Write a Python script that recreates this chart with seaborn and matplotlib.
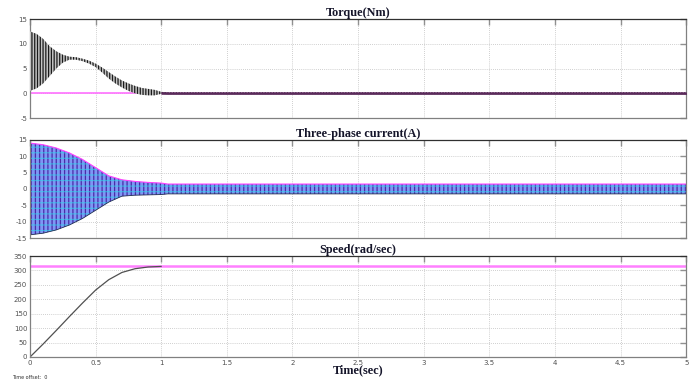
import numpy as np
import pandas as pd
import matplotlib
matplotlib.use("Agg")
import matplotlib.pyplot as plt
import seaborn as sns

# ---------------- data ----------------
# Torque envelope (Nm)
torque_t     = [0.0, 0.05, 0.10, 0.15, 0.20, 0.25, 0.30, 0.35, 0.40, 0.45, 0.50, 0.55, 0.60, 0.65, 0.70, 0.75, 0.80, 0.85, 0.90, 0.95, 1.00, 1.05, 5.0]
torque_upper = [12.5, 12.0, 11.0, 9.5, 8.5, 7.8, 7.4, 7.3, 7.0, 6.6, 6.0, 5.2, 4.3, 3.4, 2.6, 2.0, 1.5, 1.1, 0.9, 0.7, 0.3, 0.2, 0.2]
torque_lower = [0.5, 1.0, 2.0, 3.5, 5.0, 6.2, 6.8, 6.8, 6.5, 6.0, 5.3, 4.2, 3.0, 2.0, 1.2, 0.5, 0.0, -0.3, -0.4, -0.4, -0.1, -0.15, -0.15]
torque_ref_t = [0.0, 5.0]
torque_ref   = [0.0, 0.0]

# Three-phase current envelope (A)
current_t     = [0.0, 0.1, 0.2, 0.3, 0.4, 0.5, 0.6, 0.7, 0.8, 0.9, 1.0, 1.05, 5.0]
current_upper = [14.0, 13.5, 12.5, 11.0, 9.0, 6.5, 4.0, 2.8, 2.3, 2.0, 1.8, 1.5, 1.5]
current_lower = [-14.0, -13.5, -12.5, -11.0, -9.0, -6.5, -4.0, -2.2, -1.9, -1.8, -1.7, -1.5, -1.5]

# Speed (rad/sec)
speed_t   = [0.0, 0.1, 0.2, 0.3, 0.4, 0.5, 0.6, 0.7, 0.8, 0.9, 1.0]
speed_val = [0, 45, 92, 140, 187, 232, 268, 293, 306, 312, 314]
speed_ref_t = [0.0, 5.0]
speed_ref   = [314, 314]

x_ticks = [0, 0.5, 1, 1.5, 2, 2.5, 3, 3.5, 4, 4.5, 5]
x_tick_labels = ["0", "0.5", "1", "1.5", "2", "2.5", "3", "3.5", "4", "4.5", "5"]
torque_ticks = [-5, 0, 5, 10, 15]
current_ticks = [-15, -10, -5, 0, 5, 10, 15]
speed_ticks = [0, 50, 100, 150, 200, 250, 300, 350]

titles = ["Torque(Nm)", "Three-phase current(A)", "Speed(rad/sec)"]
xlabel = "Time(sec)"

# ---------------- style ----------------
sns.set_theme(style="white")
plt.rcParams["font.family"] = ["DejaVu Sans"]
plt.rcParams["hatch.linewidth"] = 0.9

fig = plt.figure(figsize=(6.9, 3.81), dpi=100)
left, width = 0.0435, 0.951
ax1 = fig.add_axes([left, 0.690, width, 0.260])
ax2 = fig.add_axes([left, 0.375, width, 0.258])
ax3 = fig.add_axes([left, 0.063, width, 0.265])

title_font = dict(family="Liberation Serif", fontweight="bold", fontsize=8.8, color="#15152a")

def style_axis(ax, yticks, show_xlabels):
    ax.set_xlim(0, 5)
    ax.set_ylim(yticks[0], yticks[-1])
    ax.set_xticks(x_ticks)
    ax.set_yticks(yticks)
    ax.set_yticklabels([str(v) for v in yticks])
    if show_xlabels:
        ax.set_xticklabels(x_tick_labels)
    else:
        ax.set_xticklabels([])
    ax.tick_params(axis="both", which="both", direction="in", length=4, width=1.0,
                   color="#909090", labelsize=5, labelcolor="#505050",
                   top=True, right=True, pad=2)
    ax.grid(True, linestyle=(0, (1, 1.5)), color="#c0c0c0", linewidth=0.6)
    ax.set_axisbelow(True)
    for name, sp in ax.spines.items():
        sp.set_color("#808080")
        sp.set_linewidth(0.9)
    ax.spines["top"].set_color("#303030")
    ax.set_xlabel("")
    ax.set_ylabel("")
    ax.set_facecolor("white")

# ---- Torque ----
sns.lineplot(x=torque_ref_t, y=torque_ref, ax=ax1, color="#ff70ff", linewidth=1.2)
ax1.fill_between(torque_t, torque_lower, torque_upper, facecolor="#c4c4c4",
                 edgecolor="#1a1a1a", hatch="||||||", linewidth=0.0, zorder=3)
post = [i for i, t in enumerate(torque_t) if t >= 1.0]
ax1.fill_between([torque_t[i] for i in post], [torque_lower[i] for i in post],
                 [torque_upper[i] for i in post], color="#5a2a5a", linewidth=0.5, zorder=4)
style_axis(ax1, torque_ticks, False)
ax1.set_title(titles[0], pad=2, **title_font)

# ---- Current ----
ax2.fill_between(current_t, current_lower, current_upper, facecolor="#7f96f4",
                 edgecolor="#4a2ca8", hatch="||||", linewidth=0.0)
ax2.fill_between(current_t, current_lower, current_upper, facecolor="none",
                 edgecolor="#2ad8e8", hatch="---", linewidth=0.0, alpha=0.6)
ax2.plot(current_t, current_upper, color="#ff40ff", linewidth=0.8)
ax2.plot(current_t, current_lower, color="#203050", linewidth=0.6)
style_axis(ax2, current_ticks, False)
ax2.set_title(titles[1], pad=2, **title_font)

# ---- Speed ----
sns.lineplot(x=speed_ref_t, y=speed_ref, ax=ax3, color="#ff80ff", linewidth=1.8)
sns.lineplot(x=speed_t, y=speed_val, ax=ax3, color="#505050", linewidth=0.9)
style_axis(ax3, speed_ticks, True)
ax3.set_title(titles[2], pad=2, **title_font)

fig.text(0.519, 0.012, xlabel, ha="center", va="bottom", **title_font)
fig.text(0.017, 0.002, "Time offset:  0", ha="left", va="bottom", fontsize=3.5, color="#303030")

fig.savefig("out.png", dpi=100)
